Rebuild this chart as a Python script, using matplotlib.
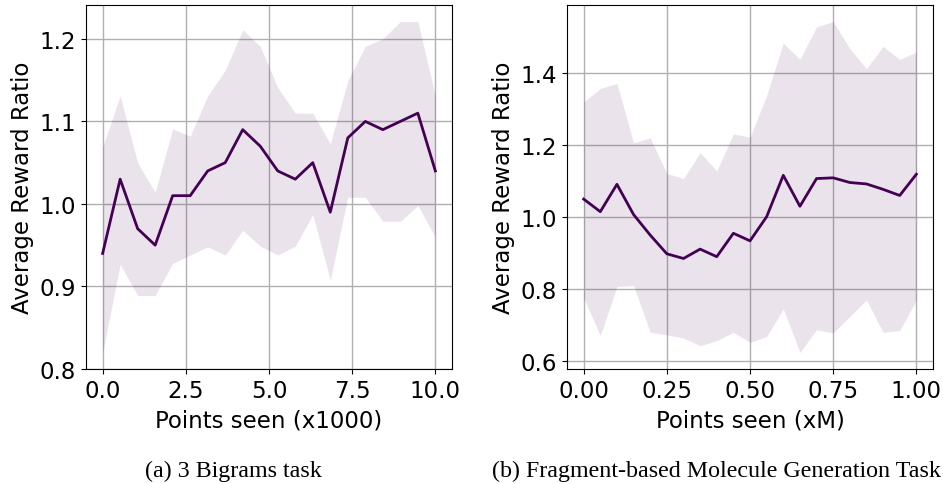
import numpy as np
import matplotlib.pyplot as plt

# (a) 3 Bigrams task
bigram_x = np.linspace(0, 10, 20)
bigram_mean = [0.94, 1.03, 0.97, 0.95, 1.01, 1.01, 1.04, 1.05, 1.09, 1.07,
               1.04, 1.03, 1.05, 0.99, 1.08, 1.10, 1.09, 1.10, 1.11, 1.04]
bigram_hi = [1.069, 1.131, 1.05, 1.014, 1.091, 1.082, 1.131, 1.162, 1.211, 1.191,
             1.141, 1.110, 1.110, 1.073, 1.149, 1.191, 1.20, 1.221, 1.221, 1.131]
bigram_lo = [0.82, 0.927, 0.889, 0.889, 0.928, 0.938, 0.948, 0.938, 0.968, 0.949,
             0.938, 0.949, 0.987, 0.908, 1.008, 1.008, 0.979, 0.979, 0.998, 0.96]

# (b) Fragment-based molecule generation
mol_x = np.linspace(0, 1, 21)
mol_mean = [1.049, 1.014, 1.090, 1.006, 0.949, 0.897, 0.884, 0.910, 0.889, 0.954, 0.933,
            1.000, 1.115, 1.029, 1.106, 1.108, 1.095, 1.091, 1.076, 1.059, 1.118]
mol_hi = [1.319, 1.356, 1.370, 1.205, 1.219, 1.120, 1.106, 1.178, 1.127, 1.230, 1.221,
          1.337, 1.482, 1.437, 1.527, 1.542, 1.467, 1.411, 1.473, 1.437, 1.457]
mol_lo = [0.774, 0.670, 0.806, 0.809, 0.679, 0.672, 0.663, 0.642, 0.656, 0.679, 0.651,
          0.667, 0.744, 0.623, 0.686, 0.677, 0.723, 0.769, 0.679, 0.684, 0.769]

col = '#440154'

fig = plt.figure(figsize=(9.43, 4.85), dpi=100)
ax1 = fig.add_axes([0.0912, 0.2371, 0.3881, 0.7505])
ax2 = fig.add_axes([0.6013, 0.2371, 0.3881, 0.7505])

panels = [
    (ax1, bigram_x, bigram_mean, bigram_lo, bigram_hi, 'Points seen (x1000)', [0, 2.5, 5, 7.5, 10]),
    (ax2, mol_x, mol_mean, mol_lo, mol_hi, 'Points seen (xM)', [0, 0.25, 0.5, 0.75, 1.0]),
]
for ax, x, m, lo, hi, xl, xt in panels:
    ax.fill_between(x, lo, hi, color=col, alpha=0.11, linewidth=0)
    ax.plot(x, m, color=col, linewidth=2)
    ax.grid(True, color='#b0b0b0', linewidth=1)
    ax.set_axisbelow(True)
    ax.set_xticks(xt)
    ax.set_xlabel(xl, fontsize=16.5, labelpad=5)
    ax.set_ylabel('Average Reward Ratio', fontsize=16.5, labelpad=4)
    ax.tick_params(labelsize=16.5)

ax1.set_yticks([0.8, 0.9, 1.0, 1.1, 1.2])
ax2.set_yticks([0.6, 0.8, 1.0, 1.2, 1.4])
ax2.xaxis.set_major_formatter(plt.FormatStrFormatter('%.2f'))

fig.text(0.248, 0.027, '(a) 3 Bigrams task', ha='center', va='center',
         family='Liberation Serif', fontsize=17.3)
fig.text(0.760, 0.027, '(b) Fragment-based Molecule Generation Task', ha='center', va='center',
         family='Liberation Serif', fontsize=17.3)

fig.savefig('out.png', dpi=100)
